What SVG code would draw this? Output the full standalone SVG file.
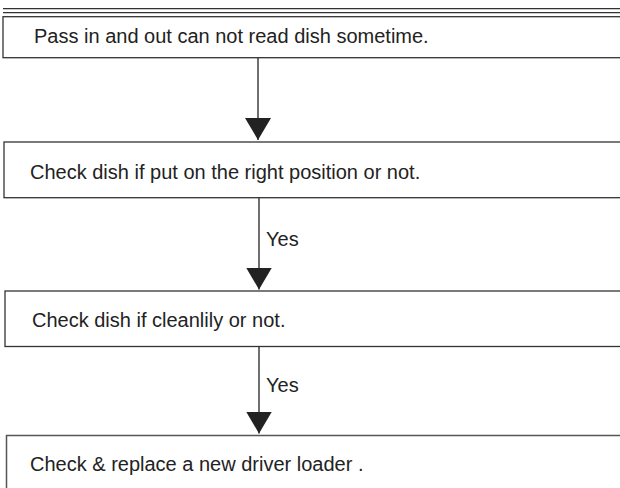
<svg xmlns="http://www.w3.org/2000/svg" width="620" height="488" viewBox="0 0 620 488">
<style>
.box{fill:#fff;stroke:#333;stroke-width:1.3}
.rule{stroke:#333;stroke-width:1.3;fill:none}
.lbl{font-family:"Liberation Sans",Arial,sans-serif;font-size:20px;fill:#222}
.conn{stroke:#222;stroke-width:1.3;fill:none}
</style>
<defs>
<marker id="ah" viewBox="0 0 22 26" refX="22" refY="13" markerWidth="22" markerHeight="26" markerUnits="userSpaceOnUse" orient="auto">
<path d="M0,0 L22,13 L0,26 Z" fill="#222"/>
</marker>
</defs>
<rect width="620" height="488" fill="#fff"/>
<line class="rule" x1="3" y1="8.7" x2="625" y2="8.7"/>
<line class="rule" x1="3" y1="12.7" x2="625" y2="12.7"/>
<g id="node1">
<rect class="box" x="3" y="16.7" width="630" height="41"/>
<text class="lbl" x="34" y="43.3">Pass in and out can not read dish sometime.</text>
</g>
<g id="node2">
<rect class="box" x="4" y="142" width="630" height="55.7"/>
<text class="lbl" x="30" y="179">Check dish if put on the right position or not.</text>
</g>
<g id="node3">
<rect class="box" x="5" y="291" width="630" height="55.5"/>
<text class="lbl" x="32" y="326.5">Check dish if cleanlily or not.</text>
</g>
<g id="node4">
<rect class="box" x="6.5" y="435.5" width="630" height="70" style="stroke:#555;stroke-width:1.5"/>
<text class="lbl" x="30" y="470.5">Check &amp; replace a new driver loader .</text>
</g>
<g id="connectors">
<line class="conn" x1="258" y1="58" x2="258" y2="140" marker-end="url(#ah)"/>
<line class="conn" x1="259" y1="198" x2="259" y2="289.5" marker-end="url(#ah)"/>
<text class="lbl" x="266" y="245.5">Yes</text>
<line class="conn" x1="259" y1="346.5" x2="259" y2="433.5" marker-end="url(#ah)"/>
<text class="lbl" x="266" y="392">Yes</text>
</g>
</svg>
